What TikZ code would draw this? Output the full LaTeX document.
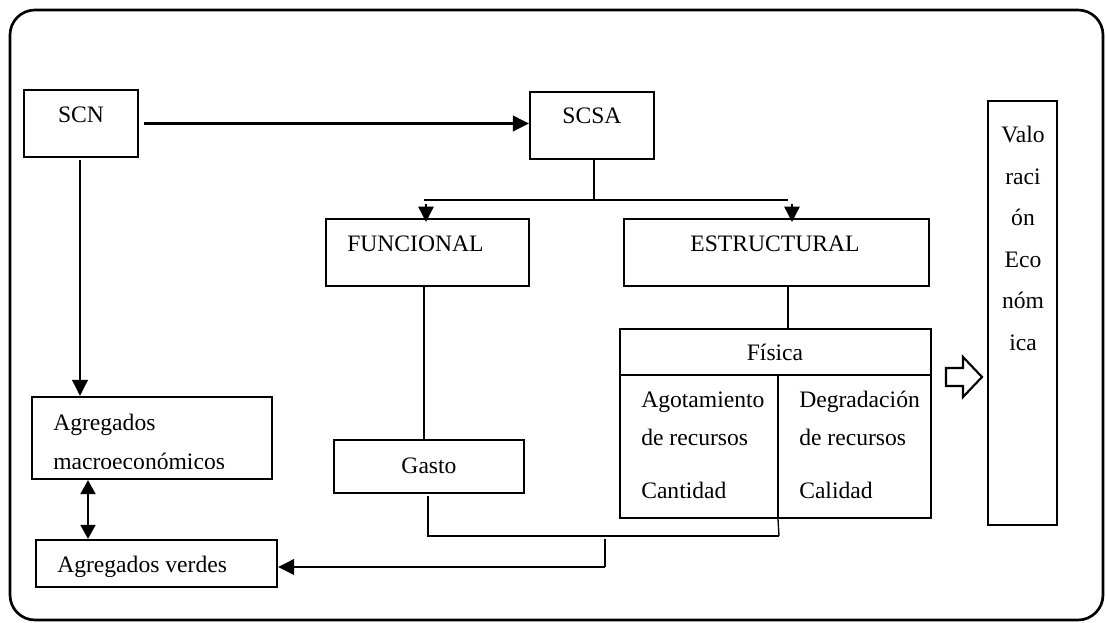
\documentclass[tikz,border=0pt]{standalone}
\usepackage{fontspec}
\setmainfont{Liberation Serif}
\usetikzlibrary{fit,arrows.meta}
\begin{document}
\begin{tikzpicture}[x=0.75pt,y=-0.75pt,
  box/.style={draw,line width=1.6pt,inner sep=0pt},
  thinline/.style={line width=1pt},
  arr/.style={line width=2.1pt,-{Triangle[length=12pt,width=11.5pt]}},
  dblarr/.style={line width=2.1pt,{Triangle[length=10.5pt,width=11pt]}-{Triangle[length=10.5pt,width=11pt]}},
  brarr/.style={line width=1.3pt,-{Triangle[length=11.5pt,width=11.5pt]}},
  txt/.style={inner sep=0pt,font=\fontsize{17.7}{20}\selectfont},
  ]
\useasboundingbox (0,0) rectangle (1106,623);
% outer frame
\draw[line width=2pt,rounded corners=18.75pt] (10,10) rectangle (1103,620);

% boxes
\node[box,fit={(24,90)(138,157)}] (scn) {};
\node[box,fit={(530,92)(654,159)}] (scsa) {};
\node[box,fit={(326,219)(529,286)}] (func) {};
\node[box,fit={(624,219)(929,286)}] (estr) {};
\node[box,fit={(620,329)(931,518)}] (fis) {};
\node[box,fit={(334,440)(524,493)}] (gasto) {};
\node[box,fit={(32,397)(272,479)}] (macro) {};
\node[box,fit={(36,540)(277,587)}] (verdes) {};
\node[box,fit={(988,101)(1057,525)}] (valor) {};

% texts
\node[txt,anchor=base] (tscn) at (81,123) {SCN};
\node[txt,anchor=base] (tscsa) at (592,124) {SCSA};
\node[txt,anchor=base west] (tfunc) at (347,252) {FUNCIONAL};
\node[txt,anchor=base] (testr) at (775,252) {ESTRUCTURAL};
\node[txt,anchor=base] (tfis) at (775,360) {Física};
\node[txt,anchor=base west] (tago1) at (641,407) {Agotamiento};
\node[txt,anchor=base west] (tago2) at (641,445) {de recursos};
\node[txt,anchor=base west] (tago3) at (641,498) {Cantidad};
\node[txt,anchor=base west] (tdeg1) at (799,407) {Degradación};
\node[txt,anchor=base west] (tdeg2) at (799,445) {de recursos};
\node[txt,anchor=base west] (tdeg3) at (799,498) {Calidad};
\node[txt,anchor=base] (tgasto) at (429,473) {Gasto};
\node[txt,anchor=base west] (tmac1) at (53,430) {Agregados};
\begin{scope}
  \clip (32,397) rectangle (272,468.5);
  \node[txt,anchor=base west] (tmac2) at (53,469) {macroeconómicos};
\end{scope}
\node[txt,anchor=base west] (tverdes) at (57,572) {Agregados verdes};
\node[txt,anchor=base] (tv1) at (1023,143) {Valo};
\node[txt,anchor=base] (tv2) at (1023,185) {raci};
\node[txt,anchor=base] (tv3) at (1023,226) {ón};
\node[txt,anchor=base] (tv4) at (1023,268) {Eco};
\node[txt,anchor=base] (tv5) at (1023,309) {nóm};
\node[txt,anchor=base] (tv6) at (1023,351) {ica};

% Física table dividers
\coordinate (rowy) at (0,375);
\coordinate (colx) at (778,0);
\draw[line width=1.6pt] (fis.west |- rowy) -- (fis.east |- rowy);
\coordinate (jr) at (779,536);
\draw[line width=1.6pt] (colx |- rowy) -- (colx |- fis.south);
\draw[thinline] (colx |- fis.south) -- (jr);

% connectors
\draw[arr] ([xshift=3.75pt]scn.east) -- (scn.east -| scsa.west);
\coordinate (scnx) at (80,0);
\draw[arr] ([yshift=-1.5pt]scnx |- scn.south) -- (scnx |- macro.north);
\coordinate (dx) at (88,0);
\draw[dblarr] (dx |- macro.south) -- (dx |- verdes.north);

% SCSA branching
\coordinate (bc) at (594,200);
\coordinate (bl) at (424,200);
\coordinate (br) at (788,200);
\draw[thinline] (scsa.south -| bc) -- (bc);
\draw[thinline] (bl) -- (br);
\coordinate (fa) at (426,204);
\coordinate (ea) at (792,204);
\draw[brarr] (fa) -- ([yshift=-3pt]fa |- func.north);
\draw[brarr] (ea) -- ([yshift=-3pt]ea |- estr.north);

% lower connectors
\coordinate (fx) at (424,0);
\draw[thinline] (fx |- func.south) -- (fx |- gasto.north);
\coordinate (ex) at (788,0);
\draw[thinline] (ex |- estr.south) -- (ex |- fis.north);
\coordinate (gl) at (428,536);
\draw[thinline] ([yshift=-1.5pt]gl |- gasto.south) -- (gl) -- (jr);
\coordinate (mt) at (605,539);
\coordinate (mb) at (605,567);
\draw[thinline] (mt) -- (mb);
\draw[arr] (mb) -- (mb -| verdes.east);

% hollow block arrow
\draw[line width=1.6pt,fill=white] (946,368) -- (963,368) -- (963,357) -- (982,377)
  -- (963,397) -- (963,386) -- (946,386) -- cycle;
\end{tikzpicture}
\end{document}
